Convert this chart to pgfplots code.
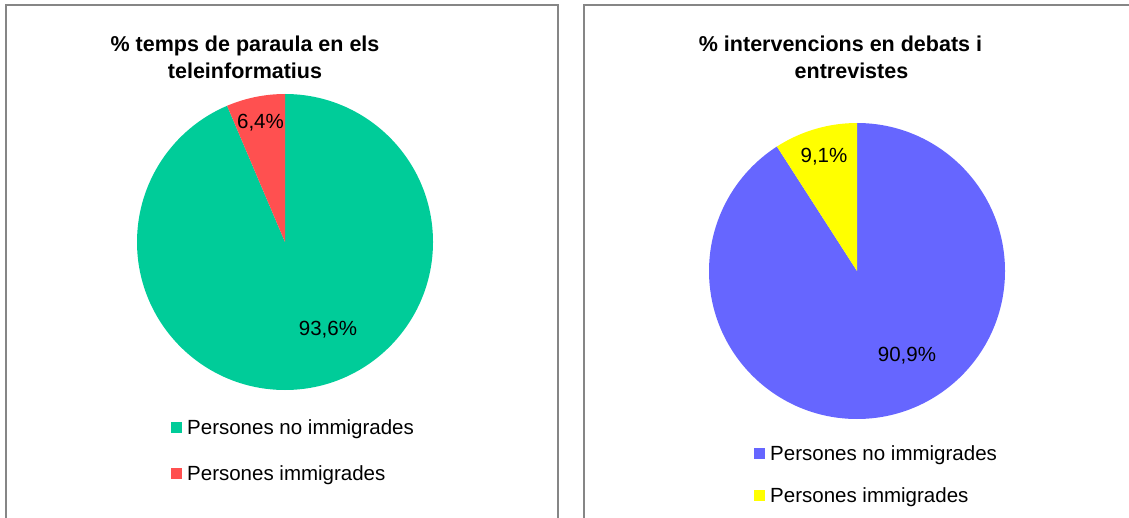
\documentclass[border=0pt]{standalone}
\usepackage{pgfplots}
\pgfplotsset{compat=1.18}
\usepackage{pgfplotstable}
\usepackage{fontspec}
\setmainfont{Liberation Sans}
\definecolor{cgreen}{RGB}{0,204,153}
\definecolor{cred}{RGB}{255,80,80}
\definecolor{cblue}{RGB}{102,102,255}
\definecolor{cyellow}{RGB}{255,255,0}
\definecolor{cframe}{RGB}{134,134,134}
\pgfplotstableread{
cat value
noimm 93.6
imm 6.4
}\tabA
\pgfplotstableread{
cat value
noimm 90.9
imm 9.1
}\tabB
\pgfplotstablegetelem{0}{value}\of\tabA \let\vAa\pgfplotsretval
\pgfplotstablegetelem{1}{value}\of\tabA \let\vAb\pgfplotsretval
\pgfplotstablegetelem{0}{value}\of\tabB \let\vBa\pgfplotsretval
\pgfplotstablegetelem{1}{value}\of\tabB \let\vBb\pgfplotsretval
\pgfmathsetmacro{\endAa}{90-3.6*\vAa}
\pgfmathsetmacro{\endAb}{\endAa-3.6*\vAb}
\pgfmathsetmacro{\endBa}{90-3.6*\vBa}
\pgfmathsetmacro{\endBb}{\endBa-3.6*\vBb}
\newcommand{\lbl}{\fontsize{20.5}{24}\selectfont}
\newcommand{\ttl}{\fontsize{21.5}{26}\selectfont\bfseries}
\begin{document}
\begin{tikzpicture}
\pgfplotsset{panel/.style={x=1pt,y=1pt,ymin=-30,ymax=512,
  axis lines=box, xtick=\empty, ytick=\empty,
  axis line style={cframe, line width=1.3pt},
  clip=false, anchor=south west}}
% left panel
\begin{axis}[panel, xmin=6, xmax=558, at={(6pt,-30pt)}]
\fill[cgreen] (axis cs:285,275) -- ++(90:148pt) arc[start angle=90, end angle=\endAa, radius=148pt] -- cycle;
\fill[cred] (axis cs:285,275) -- ++(\endAa:148pt) arc[start angle=\endAa, end angle=\endAb, radius=148pt] -- cycle;
\node[anchor=base, inner sep=0] at (axis cs:260.5,388) {\lbl 6,4\%};
\node[anchor=base, inner sep=0] at (axis cs:328,182) {\lbl 93,6\%};
\node[anchor=base, inner sep=0] at (axis cs:245,465) {\ttl \% temps de paraula en els};
\node[anchor=base, inner sep=0] at (axis cs:245,438) {\ttl teleinformatius};
\fill[cgreen] (axis cs:171,84) rectangle (axis cs:182,95);
\node[anchor=base west, inner sep=0] at (axis cs:187,83) {\lbl Persones no immigrades};
\fill[cred] (axis cs:171,38) rectangle (axis cs:182,49);
\node[anchor=base west, inner sep=0] at (axis cs:187,37) {\lbl Persones immigrades};
\end{axis}
% right panel
\begin{axis}[panel, xmin=584, xmax=1145, at={(584pt,-30pt)}]
\fill[cblue] (axis cs:857,246) -- ++(90:148pt) arc[start angle=90, end angle=\endBa, radius=148pt] -- cycle;
\fill[cyellow] (axis cs:857,246) -- ++(\endBa:148pt) arc[start angle=\endBa, end angle=\endBb, radius=148pt] -- cycle;
\node[anchor=base, inner sep=0] at (axis cs:824,354) {\lbl 9,1\%};
\node[anchor=base, inner sep=0] at (axis cs:907,156) {\lbl 90,9\%};
\node[anchor=base, inner sep=0] at (axis cs:840.5,465) {\ttl \% intervencions en debats i};
\node[anchor=base, inner sep=0] at (axis cs:851.5,438) {\ttl entrevistes};
\fill[cblue] (axis cs:754,58) rectangle (axis cs:765,69);
\node[anchor=base west, inner sep=0] at (axis cs:770,57) {\lbl Persones no immigrades};
\fill[cyellow] (axis cs:754,16) rectangle (axis cs:765,27);
\node[anchor=base west, inner sep=0] at (axis cs:770,15) {\lbl Persones immigrades};
\end{axis}
\pgfresetboundingbox
\useasboundingbox (0,0) rectangle (1129pt,517pt);
\end{tikzpicture}
\end{document}
